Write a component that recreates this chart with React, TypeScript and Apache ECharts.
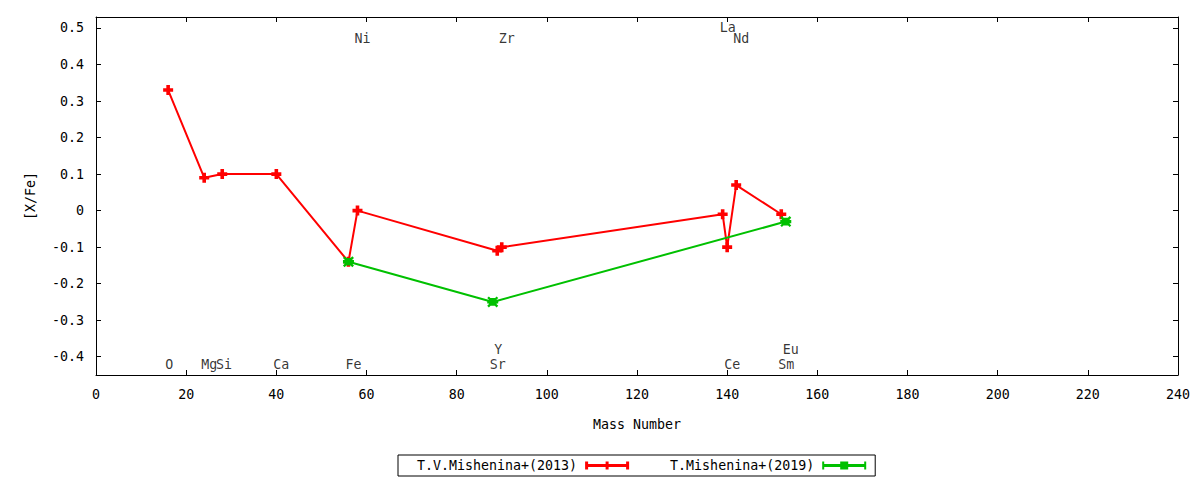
import React, { useEffect, useRef } from "react";
import * as echarts from "echarts";

const massNumbers2013 = [16, 24, 28, 40, 56, 58, 89, 90, 139, 140, 142, 152];
const values2013 = [0.33, 0.09, 0.10, 0.10, -0.14, 0.0, -0.11, -0.10, -0.01, -0.10, 0.07, -0.01];
const massNumbers2019 = [56, 88, 153];
const values2019 = [-0.14, -0.25, -0.03];

const elementNames = ["O", "Mg", "Si", "Ca", "Fe", "Ni", "Sr", "Y", "Zr", "La", "Ce", "Nd", "Sm", "Eu"];
const elementLabelX = [16, 24, 27.3, 40, 56, 58, 88, 89, 90, 139, 140, 142, 152, 153];
const elementLabelY = [-0.42, -0.42, -0.42, -0.42, -0.42, 0.47, -0.42, -0.38, 0.47, 0.5, -0.42, 0.47, -0.42, -0.38];

const seriesNames = ["T.V.Mishenina+(2013)", "T.Mishenina+(2019)"];
const xTicks = { min: 0, max: 240, interval: 20 };
const yRange = { min: -0.45, max: 0.53 };

const FONT = "DejaVu Sans Mono";
const FS = 13.3;
const RED = "#ff0000";
const GREEN = "#00c000";

const plusSymbol = "path://M3.2,0H6.8V3.2H10V6.8H6.8V10H3.2V6.8H0V3.2H3.2Z";
const crossSymbol =
  "path://M0,1.5L1.5,0L10,8.5L8.5,10Z M8.5,0L10,1.5L1.5,10L0,8.5Z M0,3.5H10V6.5H0Z M1.5,1.5H8.5V8.5H1.5Z";
const redLegendIcon =
  "path://M0,2.5H44V5.5H0Z M0,0H3V8H0Z M41,0H44V8H41Z M20.5,0H23.5V8H20.5Z";
const greenLegendIcon =
  "path://M0,2.5H44V5.5H0Z M0,0H2V8H0Z M42,0H44V8H42Z M18,0H26V8H18Z";

export default function App() {
  const ref = useRef<HTMLDivElement>(null);

  useEffect(() => {
    document.body.style.margin = "0";
    if (!ref.current) return;
    const chart = echarts.init(ref.current, undefined, { renderer: "svg" });

    const axisLineStyle = { color: "#000", width: 1 };
    const yFormatter = (v: number) => {
      const t = v * 10;
      if (Math.abs(t - Math.round(t)) > 1e-6) return "";
      return String(Math.round(t) / 10);
    };

    const option = {
      animation: false,
      backgroundColor: "#fff",
      textStyle: { fontFamily: FONT },
      grid: { left: 96, right: 22, top: 17, bottom: 105, containLabel: false },
      legend: {
        show: true,
        left: 398,
        top: 455,
        orient: "horizontal",
        align: "right",
        padding: [4, 9, 4, 19],
        itemGap: 41,
        itemWidth: 44,
        itemHeight: 8,
        borderColor: "#000",
        borderWidth: 1,
        borderRadius: 0,
        textStyle: { fontFamily: FONT, fontSize: FS, color: "#000", padding: [0, 3, 0, 0] },
        data: [
          { name: seriesNames[0], icon: redLegendIcon },
          { name: seriesNames[1], icon: greenLegendIcon },
        ],
      },
      xAxis: [
        {
          type: "value",
          min: xTicks.min,
          max: xTicks.max,
          interval: xTicks.interval,
          position: "bottom",
          name: "Mass Number",
          nameLocation: "middle",
          nameGap: 43,
          nameTextStyle: { fontFamily: FONT, fontSize: FS, color: "#000" },
          axisLine: { show: true, onZero: false, lineStyle: axisLineStyle },
          axisTick: { show: true, inside: true, length: 5, lineStyle: axisLineStyle },
          axisLabel: { margin: 13, fontFamily: FONT, fontSize: FS, color: "#000" },
          splitLine: { show: false },
        },
        {
          type: "value",
          min: xTicks.min,
          max: xTicks.max,
          interval: xTicks.interval,
          position: "top",
          axisLine: { show: true, onZero: false, lineStyle: axisLineStyle },
          axisTick: { show: true, inside: true, length: 5, lineStyle: axisLineStyle },
          axisLabel: { show: false },
          splitLine: { show: false },
        },
      ],
      yAxis: [
        {
          type: "value",
          min: yRange.min,
          max: yRange.max,
          splitNumber: 10,
          minInterval: 0.1,
          maxInterval: 0.1,
          position: "left",
          name: "[X/Fe]",
          nameLocation: "middle",
          nameGap: 59,
          nameRotate: 90,
          nameTextStyle: { fontFamily: FONT, fontSize: FS, color: "#000" },
          axisLine: { show: true, onZero: false, lineStyle: axisLineStyle },
          axisTick: { show: true, inside: true, length: 5, lineStyle: axisLineStyle },
          axisLabel: {
            margin: 12,
            fontFamily: FONT,
            fontSize: FS,
            color: "#000",
            formatter: yFormatter,
          },
          splitLine: { show: false },
        },
        {
          type: "value",
          min: yRange.min,
          max: yRange.max,
          splitNumber: 10,
          minInterval: 0.1,
          maxInterval: 0.1,
          position: "right",
          axisLine: { show: true, onZero: false, lineStyle: axisLineStyle },
          axisTick: { show: true, inside: true, length: 5, lineStyle: axisLineStyle },
          axisLabel: { show: false },
          splitLine: { show: false },
        },
      ],
      series: [
        {
          name: seriesNames[0],
          type: "line",
          xAxisIndex: 0,
          yAxisIndex: 0,
          data: massNumbers2013.map((m, i) => [m, values2013[i]]),
          symbol: plusSymbol,
          symbolSize: 10,
          showAllSymbol: true,
          lineStyle: { color: RED, width: 2 },
          itemStyle: { color: RED },
          z: 3,
        },
        {
          name: seriesNames[1],
          type: "line",
          xAxisIndex: 0,
          yAxisIndex: 0,
          data: massNumbers2019.map((m, i) => [m, values2019[i]]),
          symbol: crossSymbol,
          symbolSize: 11,
          showAllSymbol: true,
          lineStyle: { color: GREEN, width: 2 },
          itemStyle: { color: GREEN },
          z: 4,
        },
        {
          name: "labels",
          type: "scatter",
          xAxisIndex: 0,
          yAxisIndex: 0,
          silent: true,
          symbolSize: 1,
          itemStyle: { color: "rgba(0,0,0,0)" },
          data: elementNames.map((n, i) => ({ name: n, value: [elementLabelX[i], elementLabelY[i]] })),
          label: {
            show: true,
            position: "inside",
            align: "left",
            verticalAlign: "middle",
            offset: [-3, 0],
            formatter: "{b}",
            fontFamily: FONT,
            fontSize: FS,
            color: "#000",
          },
          z: 5,
        },
      ],
    };

    chart.setOption(option as any);
    return () => {
      chart.dispose();
    };
  }, []);

  return <div ref={ref} style={{ width: 1200, height: 480 }} />;
}
